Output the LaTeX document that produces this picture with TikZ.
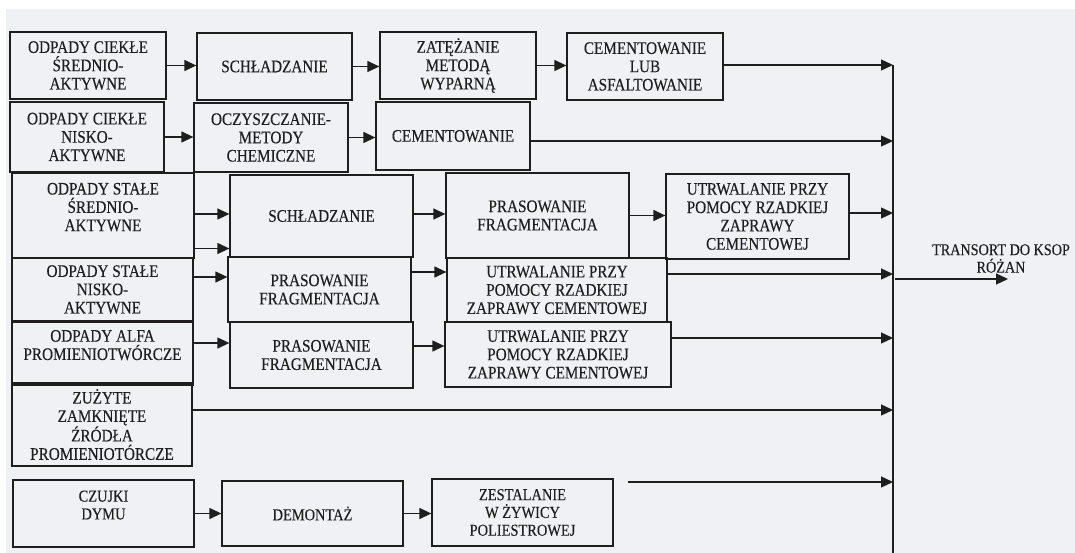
\documentclass[tikz,border=0pt]{standalone}
\usepackage{fontspec}
\setmainfont{Liberation Serif}[FakeStretch=0.864,FakeBold=0.2]
\usetikzlibrary{arrows.meta}
\definecolor{bgcol}{RGB}{239,241,244}
\definecolor{inkcol}{RGB}{30,30,30}
\begin{document}
\begin{tikzpicture}[x=1pt,y=-1pt,
  box/.style={draw=inkcol,line width=1.3pt,inner sep=0pt,align=center,text=inkcol,
              font=\fontsize{17.6}{18.3}\selectfont},
  smallbox/.style={box,font=\fontsize{16.7}{17.8}\selectfont},
  arr/.style={draw=inkcol,line width=1.3pt,-{Triangle[length=12pt,width=11pt]}},
  ln/.style={draw=inkcol,line width=1.3pt}]
\path[use as bounding box,fill=white] (0,0) rectangle (1075,553);
\fill[bgcol] (6,9) rectangle (1075,553);

% row 1
\node[box,minimum width=156pt,minimum height=67pt] (a1) at (88,65.5) {ODPADY CIEKŁE\\ŚREDNIO-\\AKTYWNE};
\node[box,minimum width=155pt,minimum height=67pt] (a2) at (274.5,66.5) {SCHŁADZANIE};
\node[box,minimum width=156pt,minimum height=67pt] (a3) at (458,65.5) {ZATĘŻANIE\\METODĄ\\WYPARNĄ};
\node[box,minimum width=156pt,minimum height=67pt] (a4) at (645,66.5) {CEMENTOWANIE\\LUB\\ASFALTOWANIE};
% row 2
\node[box,minimum width=154pt,minimum height=70pt] (b1) at (87,137) {ODPADY CIEKŁE\\NISKO-\\AKTYWNE};
\node[box,minimum width=154pt,minimum height=69pt] (b2) at (271,137.5) {OCZYSZCZANIE-\\METODY\\CHEMICZNE};
\node[box,minimum width=154pt,minimum height=68pt] (b3) at (453,136) {CEMENTOWANIE};
% row 3
\node[box,minimum width=182pt,minimum height=85pt,text depth=17pt] (c1) at (103,215.5) {ODPADY STAŁE\\ŚREDNIO-\\AKTYWNE};
\node[box,minimum width=183pt,minimum height=82pt] (c2) at (321.5,216) {SCHŁADZANIE};
\node[box,minimum width=183pt,minimum height=85pt] (c3) at (537.5,215.5) {PRASOWANIE\\FRAGMENTACJA};
\node[box,minimum width=183pt,minimum height=85pt] (c4) at (757.5,216.5) {UTRWALANIE PRZY\\POMOCY RZADKIEJ\\ZAPRAWY\\CEMENTOWEJ};
% row 4
\node[box,minimum width=181pt,minimum height=63pt] (d1) at (102.5,289.5) {ODPADY STAŁE\\NISKO-\\AKTYWNE};
\node[box,minimum width=183pt,minimum height=65pt] (d2) at (319.5,289.5) {PRASOWANIE\\FRAGMENTACJA};
\node[box,minimum width=220pt,minimum height=64pt] (d3) at (557,290) {UTRWALANIE PRZY\\POMOCY RZADKIEJ\\ZAPRAWY CEMENTOWEJ};
% row 5
\node[box,minimum width=181pt,minimum height=63pt,text depth=17pt] (e1) at (102.5,353.5) {ODPADY ALFA\\PROMIENIOTWÓRCZE};
\node[box,minimum width=183pt,minimum height=66pt] (e2) at (321.5,355) {PRASOWANIE\\FRAGMENTACJA};
\node[box,minimum width=226pt,minimum height=65pt] (e3) at (558,354.5) {UTRWALANIE PRZY\\POMOCY RZADKIEJ\\ZAPRAWY CEMENTOWEJ};
% row 6
\node[box,minimum width=180pt,minimum height=83pt] (f1) at (102,424.5) {ZUŻYTE\\ZAMKNIĘTE\\ŹRÓDŁA\\PROMIENIOTÓRCZE};
% row 7
\node[smallbox,minimum width=181pt,minimum height=67pt,text depth=17pt] (g1) at (103.5,513.5) {CZUJKI\\DYMU};
\node[smallbox,minimum width=181pt,minimum height=65pt] (g2) at (312.5,513.5) {DEMONTAŻ};
\node[smallbox,minimum width=181pt,minimum height=67pt] (g3) at (522.5,512.5) {ZESTALANIE\\W ŻYWICY\\POLIESTROWEJ};

% bus and output
\coordinate (bt) at (893,65);
\coordinate (bb) at (893,553);
\draw[ln] (bt) -- (bb);
\coordinate (out0) at (895,279);
\coordinate (out1) at (1008,279);
\draw[arr] (out0) -- (out1);
\node[align=center,text=inkcol,font=\fontsize{16.4}{17.5}\selectfont] (tr) at (1001,258.5) {TRANSORT DO KSOP\\RÓŻAN};

% row 1 arrows
\draw[arr] (a1.east) -- (a1.east -| a2.west);
\draw[arr] (a2.east) -- (a2.east -| a3.west);
\draw[arr] (a3.east) -- (a3.east -| a4.west);
\draw[arr] ([yshift=1.5pt]a4.east) -- ([yshift=1.5pt]a4.east -| bt);
% row 2
\draw[arr] (b1.east) -- (b1.east -| b2.west);
\draw[arr] (b2.east) -- (b2.east -| b3.west);
\draw[arr] ([yshift=-5pt]b3.east) -- ([yshift=-5pt]b3.east -| bt);
% row 3
\draw[arr] ([yshift=1.5pt]c1.east) -- ([yshift=1.5pt]c1.east -| c2.west);
\draw[arr] ([yshift=-33pt]c1.east) -- ([yshift=-33pt]c1.east -| c2.west);
\draw[arr] ([yshift=2pt]c2.east) -- ([yshift=2pt]c2.east -| c3.west);
\draw[arr] (c3.east) -- (c3.east -| c4.west);
\draw[arr] ([yshift=3.5pt]c4.east) -- ([yshift=3.5pt]c4.east -| bt);
% row 4
\draw[arr] ([yshift=12.5pt]d1.east) -- ([yshift=12.5pt]d1.east -| d2.west);
\draw[arr] ([yshift=17.5pt]d2.east) -- ([yshift=17.5pt]d2.east -| d3.west);
\draw[arr] ([yshift=16pt]d3.east) -- ([yshift=16pt]d3.east -| bt);
% row 5
\draw[arr] ([yshift=10.5pt]e1.east) -- ([yshift=10.5pt]e1.east -| e2.west);
\draw[arr] ([yshift=9pt]e2.east) -- ([yshift=9pt]e2.east -| e3.west);
\draw[arr] ([yshift=16.5pt]e3.east) -- ([yshift=16.5pt]e3.east -| bt);
% row 6
\draw[arr] ([yshift=14.5pt]f1.east) -- ([yshift=14.5pt]f1.east -| bt);
% row 7
\draw[arr] (g1.east) -- (g1.east -| g2.west);
\draw[arr] (g2.east) -- (g2.east -| g3.west);
\coordinate (g3s) at (628,482);
\draw[arr] (g3s) -- (g3s -| bt);
\end{tikzpicture}
\end{document}
